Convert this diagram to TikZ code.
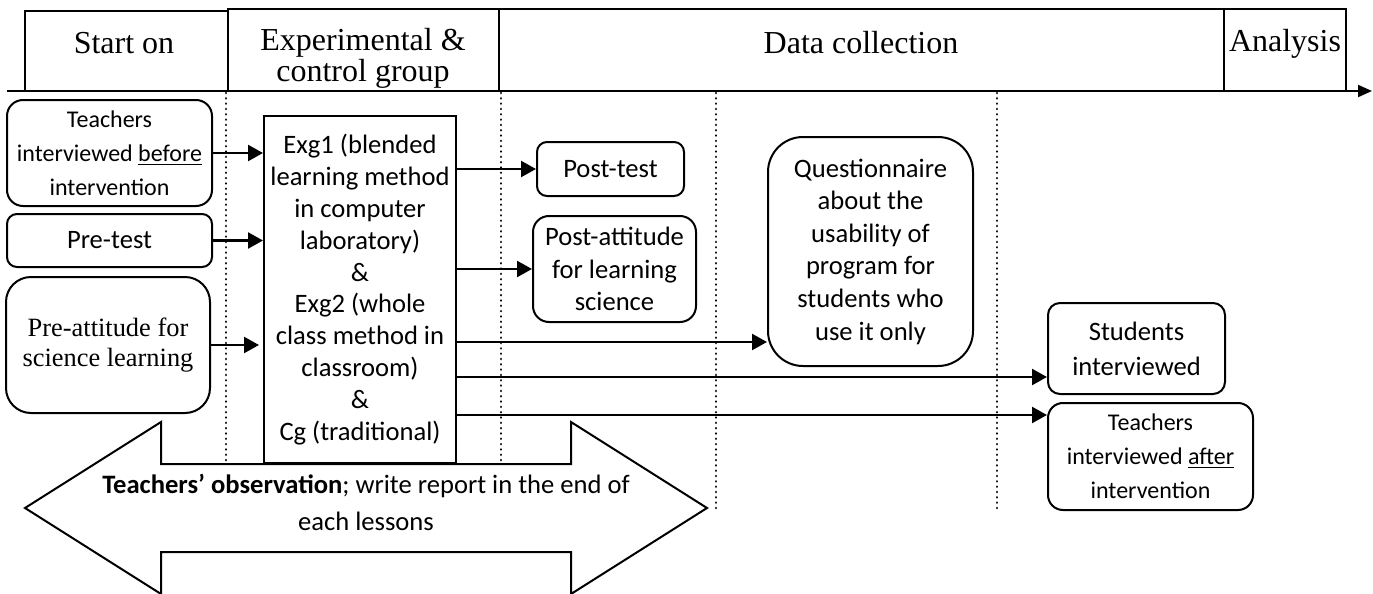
\documentclass[tikz,border=0pt]{standalone}
\usepackage{fontspec}
\setmainfont{Carlito}
\newfontfamily\tnr{Liberation Serif}
\usetikzlibrary{arrows.meta}
\begin{document}
\begin{tikzpicture}[x=0.5pt,y=-0.5pt,
  hdr/.style={draw, line width=0.75pt, inner sep=0pt},
  hdrtxt/.style={font=\tnr\fontsize{16}{14.5}\selectfont, align=center, inner sep=0pt},
  rbox/.style={draw, line width=1pt, inner sep=0pt, align=center, font=\fontsize{13.3}{16.3}\selectfont},
  sbox/.style={rbox, font=\fontsize{12}{17}\selectfont},
  arr/.style={line width=1.2pt, -{Triangle[length=7.5pt,width=8pt]}},
  dots/.style={line width=1.35pt, line cap=round, dash pattern=on 0.01pt off 2.65pt},
  tline/.style={line width=1pt, -{Triangle[length=7pt,width=6pt]}},
]
\useasboundingbox (0,0) rectangle (1373,594);

% header
\node[hdr, minimum width=101.5pt, minimum height=40pt] (startbox) at (126.5,51) {};
\node[hdr, minimum width=135.5pt, minimum height=41pt] (expbox) at (363.5,50) {};
\node[hdr, minimum width=362.5pt, minimum height=41pt] (databox) at (861.5,50) {};
\node[hdr, minimum width=61pt, minimum height=41pt] (anabox) at (1285,50) {};
\node[hdrtxt] (starttxt) at (124,43) {Start on};
\node[hdrtxt] (exptxt) at (363,58) {Experimental \&\\control group};
\node[hdrtxt] (datatxt) at (861,43) {Data collection};
\node[hdrtxt] (anatxt) at (1285,44) {Analysis};

% timeline
\coordinate (tl0) at (7,91);
\coordinate (tl1) at (1372,91);
\draw[tline] (tl0) -- (tl1);

% dotted separators
\coordinate (d1a) at (226,93); \coordinate (d1b) at (226,463);
\coordinate (d2a) at (501,93); \coordinate (d2b) at (501,463);
\coordinate (d3a) at (716,93); \coordinate (d3b) at (716,510);
\coordinate (d4a) at (997,93); \coordinate (d4b) at (997,512);
\draw[dots] (d1a) -- (d1b);
\draw[dots] (d2a) -- (d2b);
\draw[dots] (d3a) -- (d3b);
\draw[dots] (d4a) -- (d4b);

% big double arrow
\coordinate (a1) at (25,508);
\coordinate (a2) at (161,422);
\coordinate (a3) at (161,464);
\coordinate (a4) at (571,464);
\coordinate (a5) at (571,422);
\coordinate (a6) at (707,508);
\coordinate (a7) at (571,594);
\coordinate (a8) at (571,552);
\coordinate (a9) at (161,552);
\coordinate (a10) at (161,594);
\draw[line width=1pt, line join=miter] (a1) -- (a2) -- (a3) -- (a4) -- (a5) -- (a6) -- (a7) -- (a8) -- (a9) -- (a10) -- cycle;
\node[align=center, inner sep=0pt, font=\fontsize{13.3}{18.5}\selectfont] (obs) at (366,502)
  {\textbf{Teachers’ observation}; write report in the end of\\each lessons};

% left boxes
\node[sbox, rounded corners=8pt, minimum width=102.5pt, minimum height=53pt] (tbefore) at (109.5,153)
  {Teachers\\interviewed \underline{before}\\intervention};
\node[rbox, rounded corners=5pt, minimum width=102.5pt, minimum height=26.5pt] (pretest) at (109.5,240.5) {Pre-test};
\node[rbox, rounded corners=12.5pt, minimum width=102pt, minimum height=68pt, font=\tnr\fontsize{13.2}{15}\selectfont] (preatt) at (108,345)
  {Pre-attitude for\\science learning};

% central box
\node[rbox, minimum width=96pt, minimum height=173.5pt, font=\fontsize{13.3}{15.9}\selectfont] (exg) at (360,289.5)
  {Exg1 (blended\\learning method\\in computer\\laboratory)\\\&\\Exg2 (whole\\class method in\\classroom)\\\&\\Cg (traditional)};

% right boxes
\node[rbox, rounded corners=5pt, minimum width=73.5pt, minimum height=27pt] (posttest) at (610.5,169) {Post-test};
\node[rbox, rounded corners=8pt, minimum width=81.5pt, minimum height=53pt] (postatt) at (614.5,269)
  {Post-attitude\\for learning\\science};
\node[rbox, rounded corners=17.5pt, minimum width=102.5pt, minimum height=114.5pt] (quest) at (870.5,251.5)
  {Questionnaire\\about the\\usability of\\program for\\students who\\use it only};
\node[rbox, rounded corners=6pt, minimum width=88.5pt, minimum height=45.5pt, font=\fontsize{13.3}{17.5}\selectfont] (students) at (1136.5,348.5)
  {Students\\interviewed};
\node[sbox, rounded corners=7.5pt, minimum width=102.5pt, minimum height=53.5pt] (tafter) at (1150.5,456.5)
  {Teachers\\interviewed \underline{after}\\intervention};

% arrows in
\draw[arr] (tbefore.east) -- (tbefore.east -| exg.west);
\draw[arr] (pretest.east) -- (pretest.east -| exg.west);
\draw[arr, shorten >=2pt] (preatt.east) -- (preatt.east -| exg.west);

% arrows out
\coordinate (yq) at (0,342);
\coordinate (ys) at (0,377);
\coordinate (yt) at (0,415);
\draw[arr] (posttest.west -| exg.east) -- (posttest.west);
\draw[arr] (postatt.west -| exg.east) -- (postatt.west);
\draw[arr] (exg.east |- yq) -- (quest.west |- yq);
\draw[arr] (exg.east |- ys) -- (students.west |- ys);
\draw[arr] (exg.east |- yt) -- (tafter.west |- yt);
\end{tikzpicture}
\end{document}
